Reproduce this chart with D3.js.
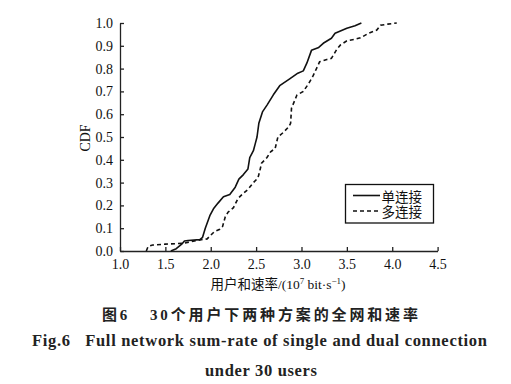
<!DOCTYPE html>
<html>
<head>
<meta charset="utf-8">
<script src="https://cdn.jsdelivr.net/npm/d3@7"></script>
<style>
  html, body { margin: 0; padding: 0; background: #fff; }
  svg { display: block; }
</style>
</head>
<body>
<svg id="chart" width="511" height="384"></svg>
<script>
// ---- data ----
const singleRate = [1.56, 1.62, 1.68, 1.71, 1.75, 1.88, 1.91, 1.94, 1.99, 2.03, 2.08, 2.14, 2.21, 2.27, 2.31, 2.36, 2.41, 2.43, 2.47, 2.49, 2.51, 2.53, 2.57, 2.62, 2.69, 2.76, 2.87, 2.96, 3.02, 3.06, 3.11, 3.19, 3.24, 3.33, 3.37, 3.50, 3.59, 3.66];
const singleCdf  = [0.0, 0.01, 0.03, 0.044, 0.046, 0.05, 0.06, 0.10, 0.155, 0.185, 0.21, 0.238, 0.248, 0.28, 0.315, 0.335, 0.36, 0.41, 0.44, 0.47, 0.50, 0.56, 0.61, 0.64, 0.685, 0.725, 0.755, 0.78, 0.79, 0.825, 0.88, 0.893, 0.911, 0.933, 0.955, 0.977, 0.988, 1.0];

const dualRate = [1.29, 1.31, 1.36, 1.50, 1.70, 1.84, 1.96, 1.99, 2.04, 2.10, 2.13, 2.16, 2.19, 2.25, 2.30, 2.35, 2.41, 2.47, 2.52, 2.54, 2.56, 2.62, 2.66, 2.71, 2.74, 2.80, 2.86, 2.88, 2.89, 2.95, 3.02, 3.08, 3.13, 3.20, 3.28, 3.33, 3.39, 3.43, 3.50, 3.58, 3.65, 3.74, 3.83, 3.87, 3.95, 4.05];
const dualCdf  = [0.0, 0.02, 0.026, 0.03, 0.034, 0.046, 0.053, 0.065, 0.085, 0.095, 0.107, 0.15, 0.17, 0.19, 0.23, 0.25, 0.27, 0.30, 0.32, 0.35, 0.385, 0.41, 0.435, 0.45, 0.50, 0.52, 0.545, 0.56, 0.626, 0.684, 0.70, 0.735, 0.77, 0.83, 0.84, 0.845, 0.885, 0.904, 0.922, 0.928, 0.935, 0.955, 0.969, 0.99, 0.995, 1.0];

const xTicks = [1.0, 1.5, 2.0, 2.5, 3.0, 3.5, 4.0, 4.5];
const yTicks = [0.0, 0.1, 0.2, 0.3, 0.4, 0.5, 0.6, 0.7, 0.8, 0.9, 1.0];
const seriesNames = ["单连接", "多连接"];

// ---- drawing ----
const svg = d3.select("#chart");
const serif = "'Liberation Serif', 'Times New Roman', serif";
const cjk = "'Liberation Serif', 'Noto Sans CJK SC', serif";

const x = d3.scaleLinear().domain([1.0, 4.5]).range([120, 437.6]);
const y = d3.scaleLinear().domain([0, 1]).range([251, 23]);

const axisColor = "#222";

// x axis
const gx = svg.append("g").attr("transform", `translate(0,${y(0)})`)
  .call(d3.axisBottom(x).tickValues(xTicks).tickFormat(d3.format(".1f"))
        .tickSize(-4).tickSizeOuter(0).tickPadding(8));
// y axis
const gy = svg.append("g").attr("transform", `translate(${x(1.0)},0)`)
  .call(d3.axisLeft(y).tickValues(yTicks).tickFormat(d3.format(".1f"))
        .tickSize(-4).tickSizeOuter(0).tickPadding(7));

[gx, gy].forEach(g => {
  g.select(".domain").attr("stroke", axisColor).attr("stroke-width", 1.3);
  g.selectAll(".tick line").attr("stroke", axisColor).attr("stroke-width", 1.3);
  g.selectAll(".tick text").attr("fill", "#111")
    .style("font-family", serif).style("font-size", "14px");
});

// curves
const line = d3.line().x(d => x(d[0])).y(d => y(d[1]));
const singleData = d3.zip(singleRate, singleCdf);
const dualData = d3.zip(dualRate, dualCdf);

svg.append("path").datum(singleData).attr("d", line)
  .attr("fill", "none").attr("stroke", "#111").attr("stroke-width", 1.6)
  .attr("stroke-linejoin", "round");
svg.append("path").datum(dualData).attr("d", line)
  .attr("fill", "none").attr("stroke", "#111").attr("stroke-width", 1.6)
  .attr("stroke-dasharray", "4,3");

// y label
svg.append("text")
  .attr("transform", "translate(90,138) rotate(-90)")
  .attr("text-anchor", "middle")
  .style("font-family", serif).style("font-size", "14px").attr("fill", "#111")
  .text("CDF");

// x label
const xl = svg.append("text")
  .attr("x", 278).attr("y", 289)
  .attr("text-anchor", "middle")
  .style("font-family", cjk).style("font-size", "13.5px").attr("fill", "#111");
xl.append("tspan").text("用户和速率/(10");
xl.append("tspan").attr("dy", -5).style("font-size", "9px").text("7");
xl.append("tspan").attr("dy", 5).text(" bit·s");
xl.append("tspan").attr("dy", -5).style("font-size", "9px").text("−1");
xl.append("tspan").attr("dy", 5).text(")");

// legend
const lg = svg.append("g");
lg.append("rect").attr("x", 345.5).attr("y", 184.5).attr("width", 88).attr("height", 38.5)
  .attr("fill", "#fff").attr("stroke", "#111").attr("stroke-width", 1.3);
const legendRows = [
  { name: seriesNames[0], dash: null, yy: 195.5 },
  { name: seriesNames[1], dash: "4,3", yy: 211 }
];
legendRows.forEach(r => {
  lg.append("line").attr("x1", 353).attr("x2", 380).attr("y1", r.yy).attr("y2", r.yy)
    .attr("stroke", "#111").attr("stroke-width", 1.6)
    .attr("stroke-dasharray", r.dash);
  lg.append("text").attr("x", 381.5).attr("y", r.yy)
    .attr("dominant-baseline", "central")
    .style("font-family", "'Noto Sans CJK SC', sans-serif").style("font-size", "13.5px")
    .attr("fill", "#111").text(r.name);
});

// captions
svg.append("text")
  .attr("x", 102).attr("y", 319.5)
  .attr("textLength", 316).attr("lengthAdjust", "spacing")
  .style("font-family", cjk).style("font-size", "15px").style("font-weight", "bold")
  .attr("fill", "#222")
  .text("图6\u00a0\u00a0\u00a030个用户下两种方案的全网和速率");

svg.append("text")
  .attr("x", 32).attr("y", 345.5)
  .attr("textLength", 455).attr("lengthAdjust", "spacing")
  .style("font-family", serif).style("font-size", "16.5px").style("font-weight", "bold")
  .attr("fill", "#222")
  .text("Fig.6\u00a0\u00a0\u00a0Full network sum-rate of single and dual connection");

svg.append("text")
  .attr("x", 205).attr("y", 376)
  .attr("textLength", 112).attr("lengthAdjust", "spacing")
  .style("font-family", serif).style("font-size", "16.5px").style("font-weight", "bold")
  .attr("fill", "#222")
  .text("under 30 users");
</script>
</body>
</html>
